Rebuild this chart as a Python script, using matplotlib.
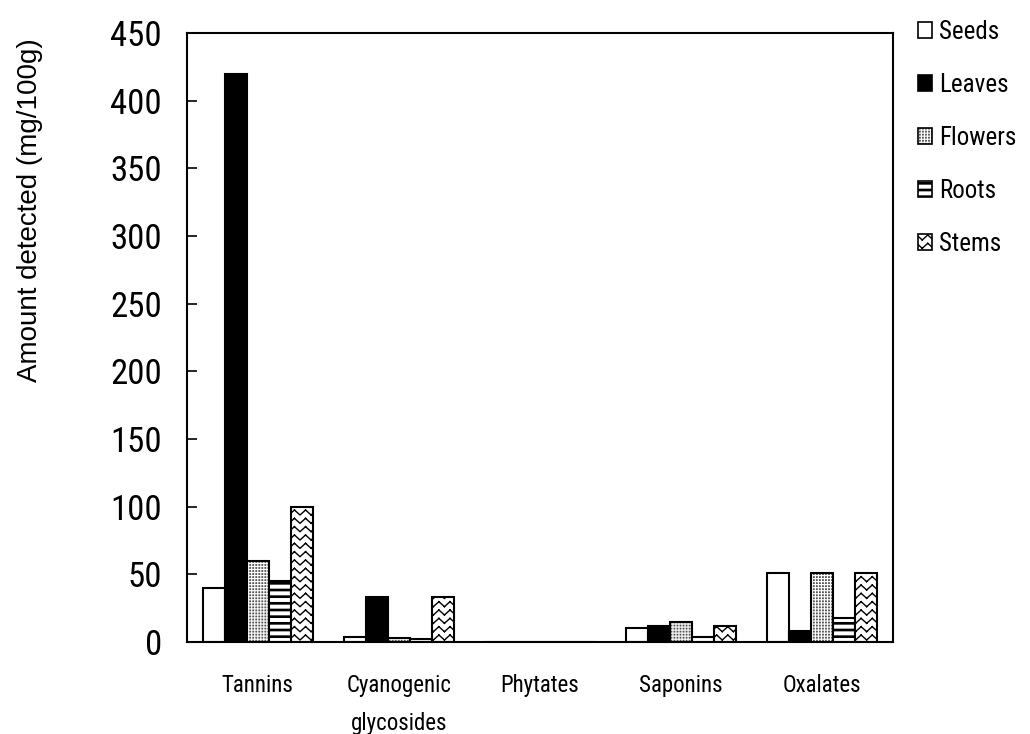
import warnings
warnings.filterwarnings("ignore")
import numpy as np
import matplotlib
matplotlib.use("Agg")
import matplotlib.pyplot as plt
import matplotlib.hatch as mhatch
from matplotlib.path import Path
from matplotlib.patches import Patch
from matplotlib.legend_handler import HandlerTuple

# ---------------- data ----------------
categories = ["Tannins", "Cyanogenic\nglycosides", "Phytates", "Saponins", "Oxalates"]
series_names = ["Seeds", "Leaves", "Flowers", "Roots", "Stems"]
seeds = [40, 4, 0, 10, 51]
leaves = [420, 33, 0, 12, 8]
flowers = [60, 3, 0, 15, 51]
roots = [45, 2, 0, 4, 18]
stems = [100, 33, 0, 12, 51]
y_ticks = [0, 50, 100, 150, 200, 250, 300, 350, 400, 450]

# ---------------- custom hatches ----------------
class ZigzagHatch(mhatch.HatchPatternBase):
    """'z' : stacked zigzag lines (each segment its own sub-path)."""
    def __init__(self, hatch, density):
        n = hatch.count('z')
        self.rows = 12 * n
        self.cols = 9 * n
        self.num_vertices = self.rows * self.cols * 4 if n else 0

    def set_vertices_and_codes(self, vertices, codes):
        k = 0
        dy = 1.0 / self.rows
        dx = 1.0 / self.cols
        amp = dy * 0.6
        for r in range(self.rows):
            y0 = r * dy + dy * 0.2
            for c in range(self.cols):
                x0 = c * dx
                pts = [(x0, y0), (x0 + dx / 2, y0 + amp), (x0 + dx / 2, y0 + amp), (x0 + dx, y0)]
                for p in pts:
                    vertices[k] = p
                    k += 1
                codes[k - 4] = Path.MOVETO
                codes[k - 3] = Path.LINETO
                codes[k - 2] = Path.MOVETO
                codes[k - 1] = Path.LINETO


class StripeHatch(mhatch.HatchPatternBase):
    """'r' : thick horizontal stripes (closed rectangles, filled)."""
    def __init__(self, hatch, density):
        n = hatch.count('r')
        self.num = 15 * n
        self.num_vertices = self.num * 5 if n else 0

    def set_vertices_and_codes(self, vertices, codes):
        d = 1.0 / self.num
        h = 0.013
        for i in range(self.num):
            y = i * d + d / 2 - h / 2
            vertices[i * 5:(i + 1) * 5] = [(0, y), (1, y), (1, y + h), (0, y + h), (0, y)]
            codes[i * 5] = Path.MOVETO
            codes[i * 5 + 1:i * 5 + 4] = Path.LINETO
            codes[i * 5 + 4] = Path.CLOSEPOLY


class DotHatch(mhatch.HatchPatternBase):
    """'d' : fine grid of tiny dots."""
    def __init__(self, hatch, density):
        n = hatch.count('d')
        self.num = 33 * n
        self.num_vertices = self.num * self.num * 5 if n else 0

    def set_vertices_and_codes(self, vertices, codes):
        d = 1.0 / self.num
        s = 0.004
        k = 0
        for i in range(self.num):
            for j in range(self.num):
                x = i * d + d / 2
                y = j * d + d / 2
                vertices[k:k + 5] = [(x, y), (x + s, y), (x + s, y + s), (x, y + s), (x, y)]
                codes[k] = Path.MOVETO
                codes[k + 1:k + 4] = Path.LINETO
                codes[k + 4] = Path.CLOSEPOLY
                k += 5


mhatch._hatch_types.extend([ZigzagHatch, StripeHatch, DotHatch])

# ---------------- figure ----------------
plt.rcParams['hatch.linewidth'] = 1.0
NARROW = ['Roboto Condensed', 'PT Sans Narrow', 'Liberation Sans', 'DejaVu Sans']
REG = ['Liberation Sans', 'DejaVu Sans']
DOT_COLOR = '#4a4a4a'

fig = plt.figure(figsize=(10.30, 7.34), dpi=100)
ax = fig.add_axes([187 / 1030, 1 - 642 / 734, (893 - 187) / 1030, (642 - 33) / 734])

x = np.arange(len(categories))
w = 0.156
offsets = (np.arange(5) - 2) * w
lw = 1.5

ax.bar(x + offsets[0], seeds, w, facecolor='white', edgecolor='black', linewidth=lw)
ax.bar(x + offsets[1], leaves, w, facecolor='black', edgecolor='black', linewidth=lw)
ax.bar(x + offsets[2], flowers, w, facecolor='white', edgecolor=DOT_COLOR, linewidth=0, hatch='d')
ax.bar(x + offsets[2], flowers, w, facecolor='none', edgecolor='black', linewidth=lw)
ax.bar(x + offsets[3], roots, w, facecolor='white', edgecolor='black', linewidth=lw, hatch='r')
ax.bar(x + offsets[4], stems, w, facecolor='white', edgecolor='black', linewidth=lw, hatch='z')

ax.set_xlim(-0.5, len(categories) - 0.5)
ax.set_ylim(0, 450)
ax.set_yticks(y_ticks)
ax.set_yticklabels([str(v) for v in y_ticks], family=NARROW, fontsize=25)
ax.set_xticks(x)
ax.set_xticklabels(categories, family=NARROW, fontsize=16.5, linespacing=1.85, va='top')
ax.tick_params(axis='y', direction='in', length=7, width=1.2, pad=18)
ax.tick_params(axis='x', length=0, pad=23)
for sp in ax.spines.values():
    sp.set_linewidth(1.5)
    sp.set_color('black')

fig.text(30 / 1030, 1 - 210 / 734, "Amount detected (mg/100g)", rotation=90,
         ha='center', va='center', family=REG, fontsize=20)

# legend
flow_handle = (Patch(facecolor='white', edgecolor=DOT_COLOR, linewidth=0, hatch='d'),
               Patch(facecolor='none', edgecolor='black', linewidth=1.2))
handles = [Patch(facecolor='white', edgecolor='black', linewidth=1.2),
           Patch(facecolor='black', edgecolor='black', linewidth=1.2),
           flow_handle,
           Patch(facecolor='white', edgecolor='black', linewidth=1.2, hatch='r'),
           Patch(facecolor='white', edgecolor='black', linewidth=1.2, hatch='z')]
leg = fig.legend(handles, series_names, loc='upper left',
                 bbox_to_anchor=(918 / 1030, 1 - 20 / 734),
                 frameon=False, prop={'family': NARROW, 'size': 18},
                 handlelength=0.55, handleheight=0.6, handletextpad=0.3,
                 labelspacing=1.16, borderaxespad=0, borderpad=0,
                 handler_map={tuple: HandlerTuple(ndivide=1, pad=0)})

fig.savefig("out.png", dpi=100)
